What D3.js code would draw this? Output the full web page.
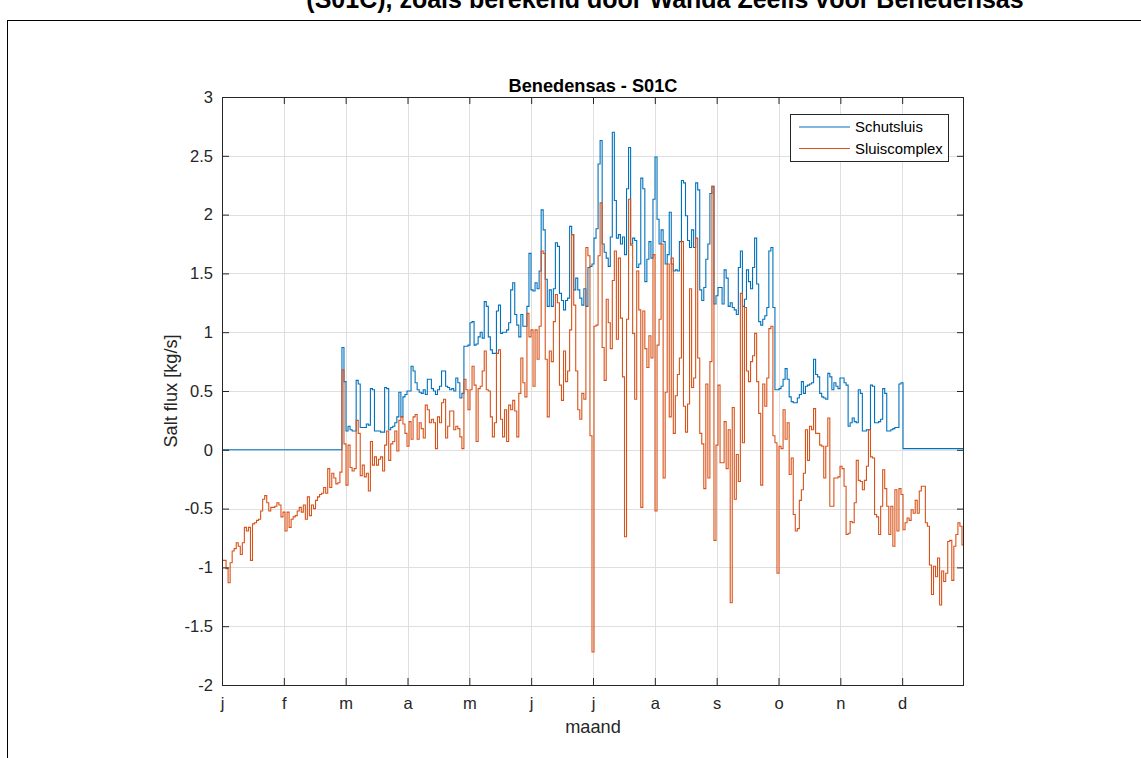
<!DOCTYPE html>
<html>
<head>
<meta charset="utf-8">
<script src="https://cdn.jsdelivr.net/npm/d3@7"></script>
<style>
  body { margin: 0; background: #fff; }
  svg { display: block; }
  text { font-family: "Liberation Sans", Arial, Helvetica, sans-serif; }
</style>
</head>
<body>
<svg id="chart" width="1141" height="758"></svg>
<script>
// Month tick labels along the x axis (one per month, equally spaced over the year)
const monthLabels = ["j", "f", "m", "a", "m", "j", "j", "a", "s", "o", "n", "d"];
const daysInYear = 365;

// y-axis ticks, kg/s
const yTickValues = [-2, -1.5, -1, -0.5, 0, 0.5, 1, 1.5, 2, 2.5, 3];

const seriesNames = ["Schutsluis", "Sluiscomplex"];

// Daily salt flux through the lock chamber only (kg/s), 1 Jan .. 31 Dec
const schutsluis = [
  // Jan - Feb: lock not in use
  0,0,0,0,0,0,0,0,0,0, 0,0,0,0,0,0,0,0,0,0, 0,0,0,0,0,0,0,0,0,0,
  0,0,0,0,0,0,0,0,0,0, 0,0,0,0,0,0,0,0,0,0, 0,0,0,0,0,0,0,0,0,
  // Mar
  0.87,0.58,0.16,0.20,0.17,0.16,0.16,0.59,0.56,0.19,
  0.19,0.19,0.22,0.21,0.52,0.51,0.16,0.16,0.16,0.15,
  0.15,0.53,0.52,0.17,0.19,0.20,0.23,0.28,0.49,0.28,0.45,
  // Apr - Jun
  0.47,0.50,0.50,0.71,0.67,0.57,0.51,0.49,0.48,0.51,
  0.47,0.60,0.60,0.52,0.50,0.47,0.51,0.54,0.67,0.67,
  0.54,0.53,0.51,0.52,0.50,0.61,0.57,0.44,0.48,0.88,
  0.88,0.89,1.08,1.09,0.89,0.90,0.96,1.00,0.95,1.26,
  1.22,0.96,0.85,0.82,0.82,1.18,1.23,0.99,1.00,1.00,
  1.02,1.08,1.36,1.42,1.15,1.06,0.96,1.15,1.05,1.05,
  1.22,1.67,1.36,1.35,1.42,1.37,1.52,2.04,1.87,1.45,
  1.22,1.36,1.22,1.37,1.76,1.73,1.33,1.27,1.19,1.27,
  1.29,1.90,1.83,1.36,1.46,1.36,1.29,1.23,
  // Jul - Sep
  1.37,1.22,1.55,1.56,1.58,1.80,1.88,2.43,2.63,1.75,
  1.68,1.63,1.56,1.81,2.70,2.12,1.80,1.83,1.75,1.81,
  1.66,2.22,2.57,1.75,1.80,1.78,1.55,1.58,2.31,2.22,
  1.43,1.62,1.77,1.63,2.13,2.49,1.96,1.75,1.87,1.77,
  1.58,1.66,2.02,1.58,1.52,1.53,1.52,1.77,2.29,2.27,
  1.99,1.78,1.72,1.87,1.72,2.27,2.21,1.36,1.27,1.38,
  1.62,1.75,2.18,2.24,1.24,1.31,1.38,1.38,1.24,1.53,
  1.46,1.22,1.25,1.21,1.19,1.15,1.55,1.69,1.22,1.28,
  1.53,1.43,1.37,1.55,1.80,1.41,1.09,1.06,1.11,1.14,
  1.21,1.69,1.72,1.21,
  // Oct - Dec
  0.51,0.51,0.52,0.54,0.60,0.69,0.60,0.45,0.41,0.40,
  0.40,0.44,0.47,0.58,0.48,0.54,0.55,0.56,0.57,0.77,
  0.64,0.62,0.48,0.45,0.44,0.43,0.65,0.62,0.51,0.57,
  0.54,0.52,0.61,0.61,0.57,0.55,0.20,0.23,0.27,0.24,
  0.23,0.51,0.48,0.16,0.16,0.17,0.17,0.55,0.54,0.23,
  0.23,0.24,0.26,0.52,0.48,0.16,0.16,0.17,0.18,0.19,
  0.19,0.56,0.57,
  0.01,0.01,0.01,0.01,0.01,0.01,0.01,0.01,0.01,0.01,
  0.01,0.01,0.01,0.01,0.01,0.01,0.01,0.01,0.01,0.01,
  0.01,0.01,0.01,0.01,0.01,0.01,0.01,0.01,0.01,0.01
];

// Daily salt flux of the whole lock complex (kg/s), 1 Jan .. 31 Dec
const sluiscomplex = [
  -0.94,-0.94,-1.01,-1.13,-0.96,-0.86,-0.84,-0.79,-0.82,-0.89,
  -0.79,-0.66,-0.69,-0.66,-0.94,-0.63,-0.62,-0.60,-0.59,-0.52,
  -0.42,-0.39,-0.45,-0.52,-0.49,-0.49,-0.48,-0.45,-0.47,-0.57,
  -0.53,-0.69,-0.53,-0.66,-0.59,-0.57,-0.56,-0.52,-0.49,-0.53,
  -0.47,-0.59,-0.40,-0.56,-0.47,-0.50,-0.43,-0.40,-0.38,-0.37,
  -0.32,-0.37,-0.16,-0.32,-0.20,-0.24,-0.29,-0.28,-0.19,0.68,
  0.05,-0.30,0.04,-0.15,-0.18,-0.16,0.25,0.14,-0.22,-0.13,
  -0.23,-0.20,-0.35,0.07,-0.13,-0.06,-0.13,-0.08,-0.06,-0.18,
  0.04,0.16,-0.09,0.05,0.07,0.16,-0.01,0.25,0.28,0.22,
  0.14,0.03,0.24,0.09,0.28,0.30,0.09,0.23,0.18,0.10,
  0.38,0.34,0.23,0.26,0.23,0.01,0.28,0.23,0.40,0.43,
  0.10,0.20,0.33,0.33,0.17,0.20,0.18,0.11,0.01,0.60,
  0.51,0.34,0.51,0.71,0.55,0.07,0.52,0.54,0.67,0.84,
  0.51,0.50,0.28,0.11,0.23,0.82,0.85,0.26,0.11,0.34,
  0.07,0.38,0.34,0.42,0.33,0.11,0.48,0.78,0.57,0.45,
  1.16,0.96,1.02,0.54,1.02,0.77,1.05,1.69,1.67,0.77,
  0.28,0.84,0.75,1.09,1.32,1.25,0.55,0.42,0.84,0.58,
  0.67,1.02,1.83,1.23,0.67,0.34,0.26,0.48,
  0.43,1.72,1.65,0.12,-1.72,1.05,1.06,1.65,2.10,0.87,
  0.59,1.28,1.08,0.86,1.44,1.69,0.94,1.63,1.12,0.62,
  -0.74,1.11,2.13,1.74,0.99,0.43,1.52,1.19,-0.49,1.18,
  0.86,0.70,0.97,0.78,1.66,-0.52,0.89,1.11,1.75,-0.24,
  0.49,1.58,0.28,1.63,0.14,0.46,0.64,0.78,1.77,0.37,
  0.15,0.39,1.37,0.53,0.61,1.80,0.78,0.14,0.05,-0.33,
  0.56,-0.24,0.75,2.24,-0.77,0.04,0.55,-0.11,-0.11,0.24,
  -0.16,0.17,-1.30,0.36,-0.42,-0.04,-0.27,1.33,0.06,1.21,
  0.67,0.58,0.75,0.80,0.99,0.58,0.31,-0.30,0.56,0.37,
  0.61,1.03,1.05,0.12,
  0.06,-1.05,0.03,0.01,0.34,0.09,0.23,-0.21,-0.07,-0.55,
  -0.69,-0.67,-0.43,-0.34,-0.20,0.17,-0.09,0.20,0.17,0.35,
  0.14,0.14,0.04,0.03,-0.24,0.03,0.27,-0.48,-0.48,-0.24,
  -0.24,-0.23,-0.14,-0.16,-0.31,-0.72,-0.71,-0.61,-0.62,-0.45,
  -0.09,-0.26,-0.27,-0.34,-0.26,-0.14,0.17,-0.06,-0.07,-0.55,
  -0.57,-0.72,-0.48,-0.17,-0.33,-0.48,-0.72,-0.48,-0.82,-0.34,
  -0.69,-0.33,-0.38,-0.68,-0.62,-0.58,-0.60,-0.51,-0.54,-0.43,
  -0.54,-0.35,-0.31,-0.31,-0.62,-0.65,-0.98,-1.23,-0.99,-1.08,
  -0.92,-1.32,-1.03,-1.12,-1.05,-0.78,-0.77,-1.11,-0.82,-0.72,
  -0.62,-0.65,-0.81
];

const colors = ["#0072BD", "#D95319"];
const axisColor = "#262626";
const gridColor = "#dfdfdf";

const svg = d3.select("#chart");

// Figure panel frame and (partially visible) figure title
svg.append("rect")
  .attr("x", 7.5).attr("y", 20.5)
  .attr("width", 1200).attr("height", 800)
  .attr("fill", "#fff").attr("stroke", "#000").attr("stroke-width", 1);

svg.append("text")
  .attr("x", 665).attr("y", 8)
  .attr("text-anchor", "middle")
  .attr("font-size", 25).attr("font-weight", "bold")
  .attr("fill", "#000")
  .text("(S01C), zoals berekend door Wanda Zeelis voor Benedensas");

// Axes box
const plotLeft = 222, plotRight = 964, plotTop = 97, plotBottom = 685;
const x = d3.scaleLinear().domain([0, daysInYear]).range([plotLeft, plotRight]);
const y = d3.scaleLinear().domain([-2, 3]).range([plotBottom, plotTop]);
const monthTicks = monthLabels.map((_, i) => i * daysInYear / 12);

const g = svg.append("g");

// grid
g.append("g").selectAll("line").data(monthTicks.slice(1)).join("line")
  .attr("x1", d => Math.round(x(d)) + 0.5).attr("x2", d => Math.round(x(d)) + 0.5)
  .attr("y1", plotTop).attr("y2", plotBottom)
  .attr("stroke", gridColor).attr("stroke-width", 1);
g.append("g").selectAll("line").data(yTickValues.slice(1, -1)).join("line")
  .attr("y1", d => Math.round(y(d)) + 0.5).attr("y2", d => Math.round(y(d)) + 0.5)
  .attr("x1", plotLeft).attr("x2", plotRight)
  .attr("stroke", gridColor).attr("stroke-width", 1);

// data lines (stairs, one step per day)
const stairs = d3.line()
  .x(d => x(d[0]))
  .y(d => y(d[1]))
  .curve(d3.curveStepAfter);

[schutsluis, sluiscomplex].forEach((vals, k) => {
  const pts = vals.map((v, i) => [i, v]);
  pts.push([vals.length, vals[vals.length - 1]]);
  g.append("path")
    .datum(pts)
    .attr("d", stairs)
    .attr("fill", "none")
    .attr("stroke", colors[k])
    .attr("stroke-width", 1.1)
    .attr("stroke-linejoin", "miter");
});

// axes with inward ticks on all four sides
const tickLen = 7;
const xAxisBottom = d3.axisBottom(x).tickValues(monthTicks)
  .tickFormat((d, i) => monthLabels[i]).tickSizeInner(-tickLen).tickSizeOuter(0).tickPadding(12);
const xAxisTop = d3.axisTop(x).tickValues(monthTicks)
  .tickFormat("").tickSizeInner(-tickLen).tickSizeOuter(0);
const yAxisLeft = d3.axisLeft(y).tickValues(yTickValues)
  .tickFormat(d => String(d)).tickSizeInner(-tickLen).tickSizeOuter(0).tickPadding(9);
const yAxisRight = d3.axisRight(y).tickValues(yTickValues)
  .tickFormat("").tickSizeInner(-tickLen).tickSizeOuter(0);

function styleAxis(sel) {
  sel.select(".domain").remove();
  sel.selectAll("line").attr("stroke", axisColor);
  sel.selectAll("text").attr("fill", axisColor)
    .attr("font-family", "Liberation Sans, Arial, sans-serif")
    .attr("font-size", 16.5);
}

g.append("g").attr("transform", `translate(0,${plotBottom})`).call(xAxisBottom).call(styleAxis);
g.append("g").attr("transform", `translate(0,${plotTop})`).call(xAxisTop).call(styleAxis);
g.append("g").attr("transform", `translate(${plotLeft},0)`).call(yAxisLeft).call(styleAxis);
g.append("g").attr("transform", `translate(${plotRight},0)`).call(yAxisRight).call(styleAxis);

g.append("rect")
  .attr("x", plotLeft + 0.5).attr("y", plotTop + 0.5)
  .attr("width", plotRight - plotLeft - 1).attr("height", plotBottom - plotTop)
  .attr("fill", "none").attr("stroke", axisColor).attr("stroke-width", 1);

// titles
svg.append("text")
  .attr("x", (plotLeft + plotRight) / 2).attr("y", 92)
  .attr("text-anchor", "middle").attr("font-size", 18.2).attr("font-weight", "bold")
  .attr("fill", "#000")
  .text("Benedensas - S01C");

svg.append("text")
  .attr("x", (plotLeft + plotRight) / 2).attr("y", 733)
  .attr("text-anchor", "middle").attr("font-size", 18.2)
  .attr("fill", axisColor)
  .text("maand");

svg.append("text")
  .attr("transform", `translate(177,${(plotTop + plotBottom) / 2}) rotate(-90)`)
  .attr("text-anchor", "middle").attr("font-size", 18.2)
  .attr("fill", axisColor)
  .text("Salt flux [kg/s]");

// legend
const lg = svg.append("g").attr("transform", "translate(790,114)");
lg.append("rect")
  .attr("x", 0.5).attr("y", 0.5).attr("width", 158).attr("height", 47)
  .attr("fill", "#fff").attr("stroke", axisColor).attr("stroke-width", 1);
seriesNames.forEach((name, k) => {
  const yy = 13 + k * 21.5;
  lg.append("line")
    .attr("x1", 9).attr("x2", 60).attr("y1", yy).attr("y2", yy)
    .attr("stroke", colors[k]).attr("stroke-width", 1.1);
  lg.append("text")
    .attr("x", 65).attr("y", yy).attr("dy", "0.35em")
    .attr("font-size", 14.9).attr("fill", "#000")
    .text(name);
});
</script>
</body>
</html>
